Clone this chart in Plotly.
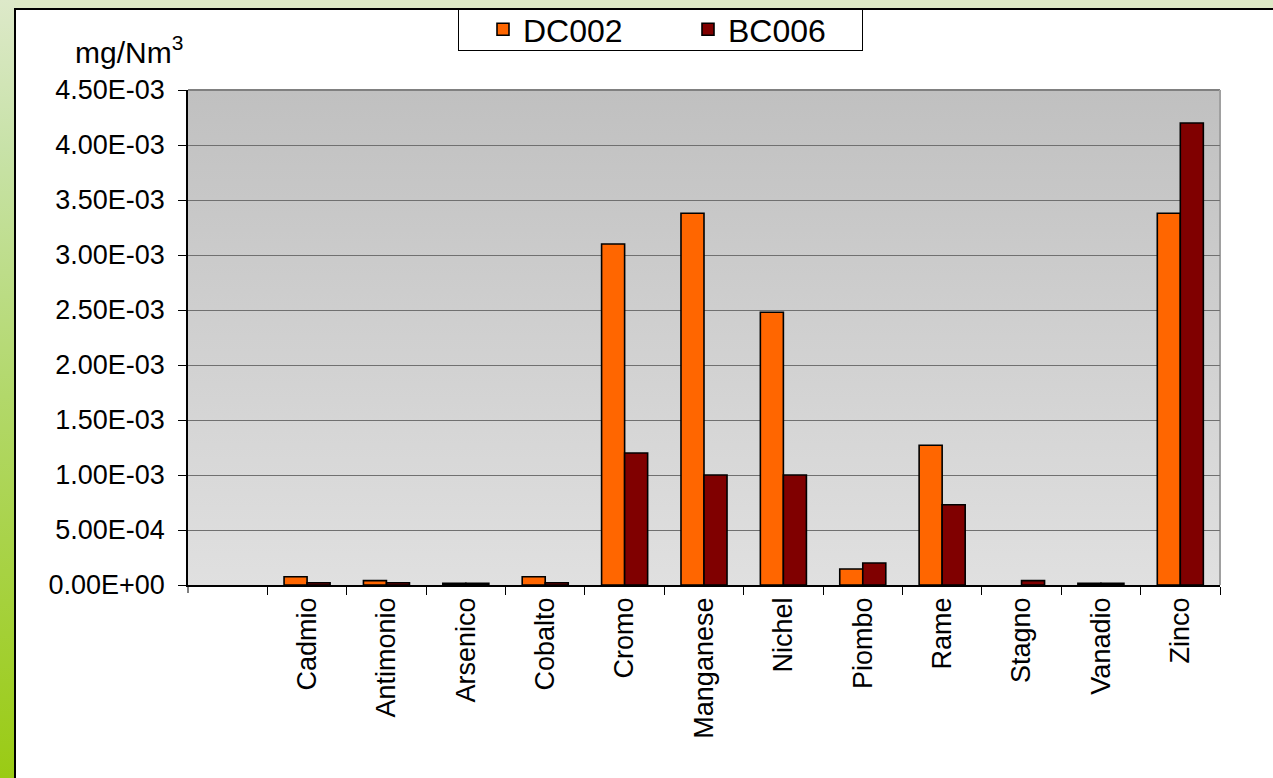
import base64
import plotly.graph_objects as go

# ---- data ----
categories = ["Cadmio", "Antimonio", "Arsenico", "Cobalto", "Cromo", "Manganese",
              "Nichel", "Piombo", "Rame", "Stagno", "Vanadio", "Zinco"]
dc002 = [7.5e-5, 4.0e-5, 1.5e-5, 7.5e-5, 3.10e-3, 3.38e-3,
         2.48e-3, 1.45e-4, 1.27e-3, None, 1.5e-5, 3.38e-3]
bc006 = [2.0e-5, 2.0e-5, 1.5e-5, 2.0e-5, 1.20e-3, 1.00e-3,
         1.00e-3, 2.00e-4, 7.3e-4, 4.0e-5, 1.5e-5, 4.20e-3]
series_names = ["DC002", "BC006"]
y_ticks = [i * 5e-4 for i in range(10)]
y_ticktext = [f"{v:.2E}" for v in y_ticks]
y_title = "mg/Nm<sup>3</sup>"

W, H = 1273, 778
PX0, PX1, PY0, PY1 = 188, 1220, 90, 585  # plot area in pixels
LX0, LX1, LY0, LY1 = 458, 862, 9, 50      # legend box in pixels

# ---- background (decoration) ----
svg = f'''<svg xmlns="http://www.w3.org/2000/svg" width="{W}" height="{H}" viewBox="0 0 {W} {H}" preserveAspectRatio="none">
<defs>
<linearGradient id="g" x1="0" y1="0" x2="0" y2="1">
<stop offset="0" stop-color="#dde9c9"/><stop offset="0.19" stop-color="#c8e2a8"/>
<stop offset="0.51" stop-color="#b2d86a"/><stop offset="1" stop-color="#9acb14"/>
</linearGradient>
<linearGradient id="p" x1="0" y1="0" x2="0" y2="1">
<stop offset="0" stop-color="#c0c0c0"/><stop offset="1" stop-color="#e0e0e0"/>
</linearGradient>
</defs>
<rect x="0" y="0" width="{W}" height="{H}" fill="#ffffff"/>
<rect x="0" y="0" width="{W}" height="9" fill="#dde9c6"/>
<rect x="0" y="0" width="15" height="{H}" fill="url(#g)"/>
<rect x="15" y="9" width="{W + 20}" height="{H + 20}" fill="#ffffff" stroke="#000000" stroke-width="2"/>
<rect x="{PX0}" y="{PY0}" width="{PX1 - PX0}" height="{PY1 - PY0}" fill="url(#p)"/>
<line x1="{PX0}" y1="{PY0}" x2="{PX1}" y2="{PY0}" stroke="#808080" stroke-width="2"/>
<line x1="{PX1}" y1="{PY0}" x2="{PX1}" y2="{PY1}" stroke="#a0a0a0" stroke-width="2"/>
<rect x="{LX0}.5" y="{LY0}.5" width="{LX1 - LX0}" height="{LY1 - LY0}" fill="#ffffff" stroke="#000000" stroke-width="1"/>
</svg>'''
svg_uri = "data:image/svg+xml;base64," + base64.b64encode(svg.encode()).decode()

FONT = "Liberation Sans, Arial, sans-serif"
TICK_SIZE = 27

fig = go.Figure()
fig.add_trace(go.Bar(x=categories, y=dc002, name=series_names[0],
                     marker=dict(color="#FF6600", line=dict(color="#000000", width=1.6))))
fig.add_trace(go.Bar(x=categories, y=bc006, name=series_names[1],
                     marker=dict(color="#800000", line=dict(color="#000000", width=1.6))))

fig.update_layout(
    template="none",
    width=W, height=H,
    margin=dict(l=0, r=0, t=0, b=0, pad=0),
    paper_bgcolor="rgba(0,0,0,0)",
    plot_bgcolor="rgba(0,0,0,0)",
    barmode="group", bargap=0.42, bargroupgap=0.0,
    font=dict(family=FONT, color="#000000", size=TICK_SIZE),
    images=[dict(source=svg_uri, xref="paper", yref="paper", x=0, y=1,
                 sizex=1, sizey=1, xanchor="left", yanchor="top",
                 sizing="stretch", layer="below")],
    xaxis=dict(domain=[PX0 / W, PX1 / W], type="category",
               categoryorder="array", categoryarray=categories,
               range=[-1.5, len(categories) - 0.5],
               tickson="boundaries", ticks="outside", ticklen=8, tickwidth=1,
               tickcolor="#000000", showline=True, linecolor="#000000", linewidth=1.5,
               showgrid=False, zeroline=False, tickangle=-90,
               tickfont=dict(family=FONT, size=TICK_SIZE), automargin=False),
    yaxis=dict(domain=[1 - PY1 / H, 1 - PY0 / H], range=[0, 4.5e-3],
               tickmode="array", tickvals=y_ticks, ticktext=y_ticktext,
               ticks="outside", ticklen=8, tickwidth=1, tickcolor="#000000",
               showline=True, linecolor="#000000", linewidth=1.5,
               showgrid=True, gridcolor="#707070", gridwidth=1, zeroline=False,
               tickfont=dict(family=FONT, size=TICK_SIZE), ticklabelstandoff=8,
               automargin=False),
    legend=dict(orientation="h", x=483 / W, y=1 - ((LY0 + LY1) / 2) / H,
                xanchor="left", yanchor="middle",
                bgcolor="rgba(0,0,0,0)", borderwidth=0,
                font=dict(family=FONT, size=32), entrywidth=160,
                traceorder="normal"),
    annotations=[dict(text=y_title, xref="paper", yref="paper",
                      x=185 / W, y=1 - 50 / H, xanchor="right", yanchor="middle",
                      showarrow=False, font=dict(family=FONT, size=30))],
    shapes=[dict(type="line", xref="paper", yref="paper", x0=PX0 / W, x1=PX0 / W,
                 y0=1 - PY1 / H, y1=1 - (PY1 + 8) / H, line=dict(color="#000000", width=1))],
)

fig.write_html("out.html", config={"displayModeBar": False},
               post_script="document.body.style.margin='0';document.body.style.overflow='hidden';")
